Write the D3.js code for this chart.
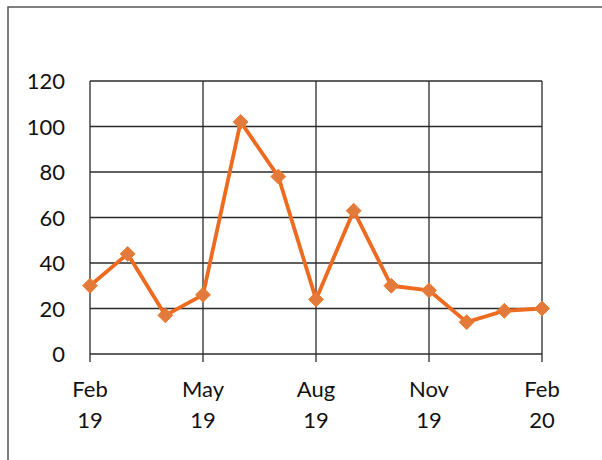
<!DOCTYPE html>
<html>
<head>
<meta charset="utf-8">
<script src="https://cdn.jsdelivr.net/npm/d3@7"></script>
<style>
  html, body { margin: 0; padding: 0; background: #fff; }
  svg { display: block; }
  text { font-family: Lato, "Open Sans", "Liberation Sans", sans-serif; fill: #111; }
</style>
</head>
<body>
<svg id="chart" width="602" height="460"></svg>
<script>
// Monthly series, Feb 2019 through Feb 2020
const months = ["2019-02","2019-03","2019-04","2019-05","2019-06","2019-07","2019-08",
                "2019-09","2019-10","2019-11","2019-12","2020-01","2020-02"];
const values = [30, 44, 17, 26, 102, 78, 24, 63, 30, 28, 14, 19, 20];

// Category axis labels (every third month), two lines each
const tickMonths = ["2019-02","2019-05","2019-08","2019-11","2020-02"];
const tickTop = ["Feb","May","Aug","Nov","Feb"];
const tickBottom = ["19","19","19","19","20"];
const yTicks = [0, 20, 40, 60, 80, 100, 120];

const svg = d3.select("#chart");
const plot = { left: 90, right: 542, top: 81, bottom: 354 };

const x = d3.scalePoint().domain(months).range([plot.left, plot.right]);
const y = d3.scaleLinear().domain([0, 120]).range([plot.bottom, plot.top]);

// outer frame (runs past the right and bottom edges)
svg.append("path")
  .attr("d", `M8,470 L8,7 L610,7`)
  .attr("fill", "none")
  .attr("stroke", "#555")
  .attr("stroke-width", 1.5);

const grid = svg.append("g").attr("stroke", "#2b2b2b").attr("stroke-width", 1.3);

// horizontal gridlines
grid.selectAll("line.h").data(yTicks).join("line")
  .attr("x1", plot.left).attr("x2", plot.right)
  .attr("y1", d => y(d)).attr("y2", d => y(d));

// vertical gridlines with tick marks below the axis
grid.selectAll("line.v").data(tickMonths).join("line")
  .attr("x1", d => x(d)).attr("x2", d => x(d))
  .attr("y1", plot.top).attr("y2", plot.bottom + 8);

// y labels
svg.append("g").selectAll("text").data(yTicks).join("text")
  .attr("x", 65).attr("y", d => y(d) + 8)
  .attr("text-anchor", "end")
  .attr("font-size", 22)
  .text(d => d);

// x labels
const xl = svg.append("g").selectAll("g").data(tickMonths).join("g");
xl.append("text")
  .attr("x", d => x(d)).attr("y", 397)
  .attr("text-anchor", "middle").attr("font-size", 22)
  .text((d, i) => tickTop[i]);
xl.append("text")
  .attr("x", d => x(d)).attr("y", 428)
  .attr("text-anchor", "middle").attr("font-size", 22)
  .text((d, i) => tickBottom[i]);

// series line
const line = d3.line().x((d, i) => x(months[i])).y(d => y(d));
svg.append("path")
  .datum(values)
  .attr("d", line)
  .attr("fill", "none")
  .attr("stroke", "#ED6A1E")
  .attr("stroke-width", 3.8)
  .attr("stroke-linejoin", "round");

// diamond markers
const diamond = d3.symbol().type(d3.symbolDiamond2).size(140);
svg.append("g").selectAll("path").data(values).join("path")
  .attr("transform", (d, i) => `translate(${x(months[i])},${y(d)})`)
  .attr("d", diamond)
  .attr("fill", "#E27A3B")
  .attr("stroke", "#EE7A2E")
  .attr("stroke-width", 1);
</script>
</body>
</html>
